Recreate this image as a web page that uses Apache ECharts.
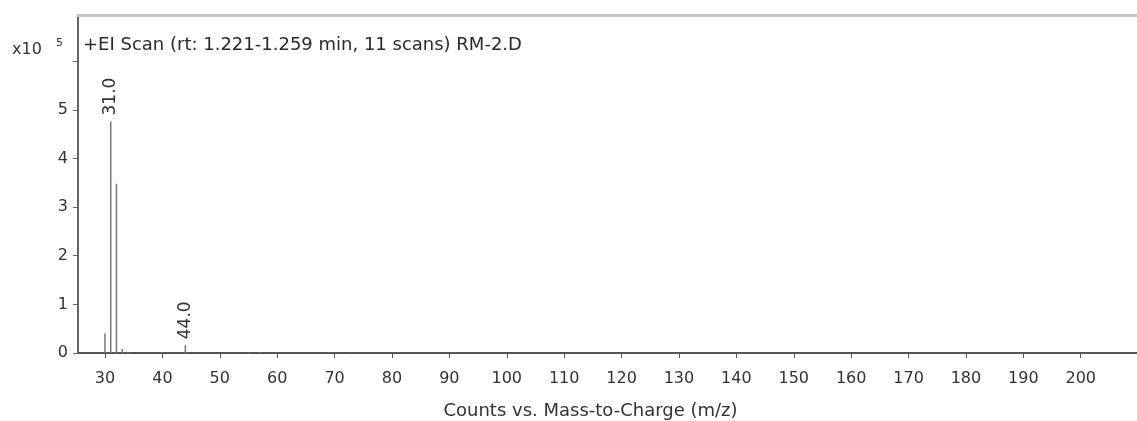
<!DOCTYPE html>
<html>
<head>
<meta charset="utf-8">
<style>html,body{margin:0;padding:0;background:#fff}#c{width:1137px;height:421px}</style>
<script src="https://cdn.jsdelivr.net/npm/echarts@6/dist/echarts.min.js"></script>
</head>
<body>
<div id="c"></div>
<script>
// m/z values and abundances (x10^5 counts)
const mz = [30, 31, 32, 33, 34, 40, 44, 55, 57, 60, 69, 73, 81, 91];
const counts = [0.40, 4.76, 3.48, 0.08, 0.02, 0.02, 0.16, 0.02, 0.02, 0.01, 0.015, 0.01, 0.01, 0.01];
const labelledPeaks = [31, 44];
const xTicks = [30, 40, 50, 60, 70, 80, 90, 100, 110, 120, 130, 140, 150, 160, 170, 180, 190, 200];
const yTicks = [0, 1, 2, 3, 4, 5, 6];
const yLabels = [0, 1, 2, 3, 4, 5];
const titleText = '+EI Scan (rt: 1.221-1.259 min, 11 scans) RM-2.D';
const xName = 'Counts vs. Mass-to-Charge (m/z)';

const font = 'DejaVu Sans, sans-serif';
const chart = echarts.init(document.getElementById('c'));
const data = mz.map((m, i) => {
  const d = { value: [m, counts[i]] };
  if (labelledPeaks.includes(m)) {
    d.label = { show: true, formatter: m.toFixed(1) };
  }
  return d;
});
chart.setOption({
  animation: false,
  grid: { left: 78, right: 0, top: 15, bottom: 68, containLabel: false, outerBoundsMode: 'none' },
  title: [
    { text: titleText, left: 78, top: 31, textStyle: { fontFamily: font, fontSize: 18, fontWeight: 'normal', color: '#2a2a2a' } },
    { text: 'x10', left: 7, top: 37, textStyle: { fontFamily: font, fontSize: 16, fontWeight: 'normal', color: '#333' } },
    { text: '5', left: 51, top: 33, textStyle: { fontFamily: font, fontSize: 11, fontWeight: 'normal', color: '#333' } }
  ],
  xAxis: [{
    type: 'value', min: 25.3, max: 209.8,
    name: xName, nameLocation: 'middle', nameGap: 49,
    nameTextStyle: { fontFamily: font, fontSize: 18, color: '#333', padding: [0, 34, 0, 0] },
    axisLine: { show: true, onZero: false, lineStyle: { color: '#555', width: 2 } },
    axisTick: { show: true, customValues: xTicks, length: 5, lineStyle: { color: '#555' } },
    axisLabel: { customValues: xTicks, fontFamily: font, fontSize: 16, color: '#333', margin: 18 },
    splitLine: { show: false }
  }, {
    type: 'value', position: 'top', min: 25.3, max: 209.8,
    axisLine: { show: true, onZero: false, lineStyle: { color: '#c4c4c4', width: 3 } },
    axisTick: { show: false }, axisLabel: { show: false }, splitLine: { show: false }
  }],
  yAxis: {
    type: 'value', min: 0, max: 6.95,
    axisLine: { show: true, onZero: false, lineStyle: { color: '#666', width: 2 } },
    axisTick: { show: true, customValues: yTicks, length: 5, lineStyle: { color: '#666' } },
    axisLabel: { customValues: yLabels, fontFamily: font, fontSize: 16, color: '#333', margin: 10 },
    splitLine: { show: false }
  },
  series: [{
    type: 'bar', xAxisIndex: 0, barWidth: 1.5, data: data,
    itemStyle: { color: '#777' },
    label: { show: false, position: 'top', rotate: 90, align: 'left', verticalAlign: 'middle', distance: 6,
      fontFamily: font, fontSize: 17, color: '#333' }
  }]
});
</script>
</body>
</html>
